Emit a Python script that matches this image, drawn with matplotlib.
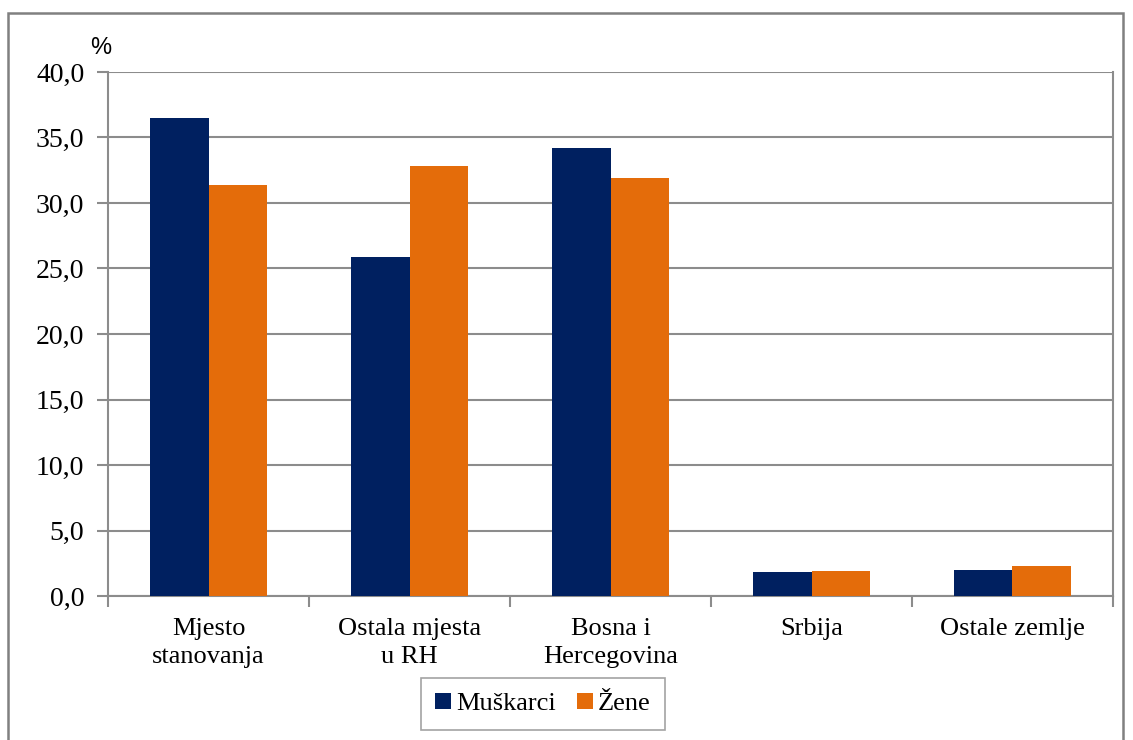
import numpy as np
import matplotlib.pyplot as plt
from matplotlib.patches import Rectangle

categories = ['Mjesto\nstanovanja', 'Ostala mjesta\nu RH', 'Bosna i\nHercegovina', 'Srbija', 'Ostale zemlje']
muskarci = [36.5, 25.9, 34.2, 1.8, 2.0]
zene = [31.4, 32.8, 31.9, 1.9, 2.3]
yticks = [0, 5, 10, 15, 20, 25, 30, 35, 40]

navy = '#002060'
orange = '#E46C0A'
grey = '#8c8c8c'

plt.rcParams['font.family'] = ['Liberation Serif', 'DejaVu Serif']

fig = plt.figure(figsize=(11.33, 7.4), dpi=100)
W, H = 1133, 740
ax = fig.add_axes([108 / W, 1 - 596 / H, (1113 - 108) / W, (596 - 72) / H])

x = np.arange(len(categories))
bw = 0.29
ax.bar(x - bw / 2, muskarci, bw, color=navy, label='Muškarci', zorder=3)
ax.bar(x + bw / 2, zene, bw, color=orange, label='Žene', zorder=3)

ax.set_xlim(-0.5, len(categories) - 0.5)
ax.set_ylim(0, 40)
ax.set_yticks(yticks)
ax.set_yticklabels([f'{v:.1f}'.replace('.', ',') for v in yticks], fontsize=20)
ax.yaxis.grid(True, color=grey, linewidth=1.5, zorder=0)
ax.set_xticks(np.arange(-0.5, len(categories), 1.0))
ax.set_xticklabels([])
ax.set_xticks(x, minor=True)
ax.set_xticklabels(categories, minor=True, fontsize=19, linespacing=1.35)
ax.tick_params(axis='x', which='minor', length=0, pad=16)
ax.tick_params(axis='x', which='major', length=8, width=1.5, color=grey)
ax.tick_params(axis='y', length=8, width=1.5, color=grey, pad=9)

for s in ['left', 'bottom', 'right']:
    ax.spines[s].set_color(grey)
    ax.spines[s].set_linewidth(1.5)
ax.spines['top'].set_visible(False)

fig.text(90 / W, 1 - 48 / H, '%', fontsize=17, family='Liberation Sans', va='center', ha='left')

leg = fig.legend(loc='center', bbox_to_anchor=(543 / W, 1 - 704 / H), ncol=2,
                 fontsize=19, frameon=True, fancybox=False, edgecolor=grey,
                 handlelength=0.6, handleheight=0.6, handletextpad=0.2,
                 columnspacing=0.8, borderpad=0.55)
leg.get_frame().set_linewidth(1.2)

fig.patches.append(Rectangle((8 / W, -0.05), (1123 - 8) / W, 1.05 - 13 / H,
                             transform=fig.transFigure, fill=False,
                             edgecolor='#808080', linewidth=1.8))

fig.savefig('out.png', dpi=100)
